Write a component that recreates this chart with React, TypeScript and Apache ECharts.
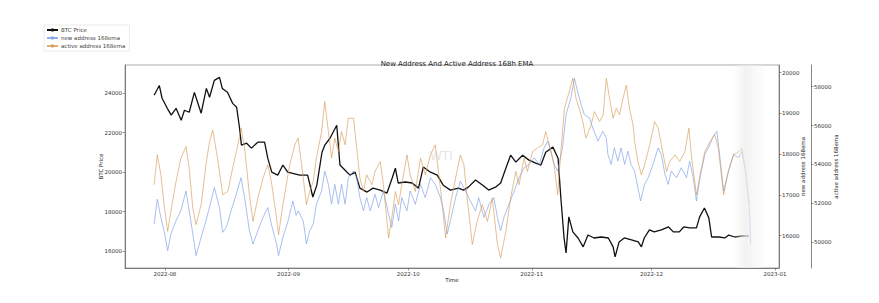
import React, { useEffect, useRef } from "react";
import * as echarts from "echarts";

// Day offsets are days after 2022-07-22 (00:00)
const btcDays = [7.3, 8.6, 9.3, 10.6, 11.6, 12.8, 14.1, 14.9, 16.1, 17.4, 19.1, 20.4, 21.2, 22.4, 23.7, 24.4, 25.7, 27.0, 28.0, 28.7, 29.2, 30.5, 31.7, 33.3, 35.0, 35.8, 36.8, 38.3, 39.6, 40.8, 43.8, 45.8, 47.1, 48.1, 49.4, 50.1, 51.4, 53.1, 53.9, 55.2, 56.4, 57.7, 58.9, 60.7, 62.2, 64.0, 65.7, 67.0, 67.8, 68.5, 70.3, 72.0, 73.6, 74.8, 76.6, 78.3, 79.8, 81.6, 83.6, 84.9, 86.1, 87.9, 89.7, 91.2, 92.9, 94.2, 95.5, 96.7, 98.0, 99.7, 101.3, 103.0, 104.3, 105.5, 107.3, 108.6, 109.3, 110.1, 110.6, 111.3, 112.3, 113.6, 114.9, 116.1, 117.6, 119.4, 121.2, 122.4, 122.9, 123.9, 125.2, 127.0, 128.7, 129.5, 130.2, 131.5, 132.7, 134.5, 136.3, 137.5, 139.0, 140.1, 141.6, 143.3, 144.1, 145.3, 146.4, 147.1, 148.9, 150.4, 151.4, 152.9, 154.7, 156.4];
const btcPrice = [23900, 24400, 23750, 23240, 22890, 23240, 22630, 23140, 23040, 24050, 22990, 24250, 23800, 24660, 24810, 24250, 24050, 23490, 23290, 22280, 21370, 21470, 21220, 21520, 21520, 20710, 20000, 19850, 20360, 20000, 19850, 19850, 18740, 19340, 21010, 21370, 21720, 22380, 20360, 20100, 19850, 20000, 19190, 18990, 19190, 19090, 18940, 19700, 20200, 19450, 19500, 19450, 19190, 20260, 20000, 19850, 19340, 19090, 19190, 19090, 19240, 19600, 19340, 19090, 19240, 19450, 20200, 20860, 20510, 20860, 20610, 20460, 20360, 21010, 21270, 20710, 18690, 16660, 15900, 17730, 16970, 16660, 16210, 16810, 16660, 16710, 16660, 16210, 15700, 16460, 16660, 16560, 16460, 16210, 16660, 17070, 16970, 17070, 17220, 16970, 16970, 17220, 17170, 17170, 17730, 18180, 17680, 16710, 16710, 16660, 16810, 16710, 16760, 16760];

const newAddrDays = [7.3, 8.1, 9.0, 9.8, 10.7, 11.5, 12.8, 14.0, 15.3, 16.1, 17.4, 17.8, 19.1, 20.3, 21.6, 22.4, 23.7, 24.5, 25.4, 26.6, 27.9, 29.1, 30.0, 31.2, 32.1, 33.3, 34.6, 35.8, 36.7, 38.0, 38.5, 39.6, 40.9, 42.1, 42.9, 43.4, 44.7, 45.5, 46.3, 47.2, 48.0, 49.3, 50.1, 51.0, 51.8, 52.6, 53.5, 54.3, 55.2, 56.0, 57.3, 58.1, 58.9, 59.8, 60.6, 61.5, 62.7, 63.6, 64.8, 66.1, 66.9, 67.8, 68.6, 69.4, 70.7, 71.5, 72.8, 74.1, 75.3, 76.6, 77.8, 79.1, 79.9, 80.8, 81.6, 82.9, 84.1, 85.4, 86.6, 87.9, 88.7, 90.0, 91.3, 92.5, 93.4, 94.2, 95.0, 96.3, 97.6, 98.8, 100.1, 101.3, 102.6, 103.9, 105.1, 106.0, 106.8, 107.6, 108.5, 109.7, 110.6, 111.8, 112.7, 113.5, 114.4, 115.2, 116.5, 117.3, 118.6, 119.8, 120.7, 121.1, 121.9, 122.7, 123.6, 124.4, 125.3, 126.1, 126.9, 127.8, 128.6, 129.3, 130.3, 131.2, 132.4, 133.7, 134.5, 135.4, 136.2, 137.0, 138.3, 139.5, 140.8, 141.6, 142.5, 143.3, 144.2, 145.4, 146.7, 147.5, 148.4, 149.2, 150.1, 150.9, 151.8, 152.6, 153.9, 154.7, 155.6, 156.5, 156.9];
const newAddr = [16284, 16894, 16447, 16120, 15632, 16040, 16365, 16609, 17096, 16609, 15796, 15511, 15960, 16365, 16853, 17180, 16691, 16082, 16203, 16609, 17016, 17423, 16935, 16120, 15796, 16120, 16447, 16691, 16284, 15796, 15511, 15960, 16365, 16853, 16500, 16609, 16365, 15796, 16120, 16284, 16772, 17096, 17584, 17260, 16772, 17260, 16772, 17260, 16772, 17423, 17584, 17423, 16935, 16609, 16935, 16609, 17016, 16691, 17096, 16528, 16203, 16772, 16365, 16935, 16609, 17096, 16772, 17260, 16935, 17423, 17260, 16935, 16609, 16040, 16365, 16935, 17340, 17096, 16853, 16609, 16935, 16447, 16772, 16935, 16447, 16120, 16447, 16772, 17096, 17423, 17667, 17748, 17911, 17748, 18155, 18317, 18073, 17748, 17584, 18155, 18968, 19375, 19863, 19537, 19212, 18968, 18887, 18643, 18317, 18561, 18399, 17992, 17748, 18155, 17829, 18155, 17748, 18073, 17748, 17584, 17180, 16853, 17260, 17423, 17748, 18155, 17992, 17504, 17260, 17584, 17423, 17667, 17423, 17829, 17423, 16853, 17423, 17992, 18236, 18439, 18561, 17911, 17096, 17423, 17748, 17992, 17911, 18073, 17584, 16772, 15796];

const activeAddrDays = [7.3, 8.1, 9.0, 9.8, 10.7, 11.5, 12.8, 14.0, 15.3, 16.1, 17.0, 17.8, 19.1, 20.3, 21.2, 22.0, 23.2, 24.5, 25.8, 27.0, 28.3, 29.1, 30.0, 31.2, 32.1, 33.3, 34.6, 35.8, 36.7, 38.0, 38.5, 39.6, 41.3, 42.6, 43.4, 44.3, 45.5, 46.3, 47.2, 48.0, 49.3, 50.1, 51.0, 51.8, 52.6, 53.5, 54.3, 55.2, 56.0, 57.3, 58.1, 58.9, 59.8, 60.6, 61.9, 62.7, 64.0, 64.8, 66.1, 66.9, 67.8, 68.6, 69.4, 70.7, 71.5, 72.8, 74.1, 75.3, 76.6, 77.8, 78.7, 79.5, 80.4, 81.6, 82.9, 84.1, 85.0, 85.8, 87.1, 88.3, 89.6, 90.9, 92.1, 93.4, 94.2, 95.5, 96.7, 98.0, 98.8, 100.1, 100.9, 102.2, 103.4, 104.7, 105.5, 106.4, 107.6, 108.5, 109.3, 110.2, 111.4, 112.3, 113.1, 113.9, 114.8, 115.6, 116.9, 117.7, 119.0, 119.9, 120.7, 121.5, 122.4, 123.2, 124.0, 124.9, 125.7, 126.5, 127.4, 127.8, 128.6, 129.5, 130.3, 131.6, 132.8, 133.7, 134.5, 135.8, 136.6, 137.9, 139.1, 140.4, 141.4, 142.1, 143.3, 144.2, 145.4, 146.7, 147.9, 148.8, 150.1, 151.3, 152.6, 153.9, 154.7, 155.6, 156.5];
const activeAddr = [52958, 54497, 53471, 51932, 50562, 51588, 53127, 54327, 54923, 53815, 51763, 50906, 51932, 53984, 55179, 55779, 54327, 52445, 52614, 53815, 55010, 55866, 54840, 52445, 51075, 52275, 53301, 53984, 53127, 51250, 50393, 51932, 53984, 55010, 55368, 53984, 51932, 52614, 53127, 54327, 55692, 57231, 55692, 54327, 55353, 54665, 55692, 55010, 56379, 56379, 54840, 53301, 52614, 53471, 52958, 53640, 54153, 52958, 50225, 51250, 52614, 51932, 52958, 54497, 53471, 52614, 54327, 53471, 54497, 55010, 53471, 52049, 50225, 51932, 53301, 54497, 53984, 52275, 49880, 51075, 51932, 51075, 52275, 49880, 49196, 50562, 52275, 53640, 52958, 54327, 53640, 54665, 54840, 55010, 55692, 55010, 53984, 52445, 54665, 56892, 57744, 58431, 57405, 56892, 56205, 55353, 56036, 56718, 56205, 56549, 58431, 57405, 56379, 56892, 56549, 57405, 58088, 56892, 56036, 55179, 54153, 53471, 53984, 55010, 56205, 55866, 55010, 53640, 54153, 54497, 54153, 54665, 55866, 54327, 52445, 53471, 54665, 55179, 55522, 54840, 52445, 53640, 54497, 54665, 54840, 53640, 51932];

const baseTime = new Date(2022, 6, 22).getTime();
const DAY = 86400000;
const toT = (d: number) => baseTime + d * DAY;

const AXIS_COLOR = "#555";
const LABEL_COLOR = "#333";

export default function App() {
  const ref = useRef<HTMLDivElement>(null);
  useEffect(() => {
    if (!ref.current) return;
    const chart = echarts.init(ref.current, undefined, { renderer: "svg" });
    const yBase = (pos: "left" | "right", step: number) => ({
      type: "value" as const,
      position: pos,
      splitLine: { show: false },
      axisLine: { show: true, lineStyle: { color: AXIS_COLOR, width: 0.7 } },
      axisTick: { show: true, length: 2.5, lineStyle: { color: AXIS_COLOR, width: 0.6 } },
      axisLabel: {
        fontSize: 5.5,
        color: LABEL_COLOR,
        margin: 3,
        showMinLabel: false,
        showMaxLabel: false,
        formatter: (v: number) => (Math.abs(v % step) < 1e-6 ? String(v) : ""),
      },
      nameLocation: "middle" as const,
      nameRotate: 90,
      nameMoveOverlap: false,
      nameTextStyle: { fontSize: 5.5, color: "#222" },
    });
    chart.setOption({
      animation: false,
      backgroundColor: "#fff",
      title: {
        text: "New Address And Active Address 168h EMA",
        left: 452,
        textAlign: "center",
        top: 55,
        textStyle: { fontSize: 7, fontWeight: "normal", color: "#222", fontFamily: "DejaVu Sans" },
      },
      legend: {
        orient: "vertical",
        left: 44,
        top: 25,
        itemWidth: 11,
        itemHeight: 4,
        itemGap: 2,
        padding: [2, 4, 2, 2],
        borderColor: "#ddd",
        borderWidth: 0.6,
        textStyle: { fontSize: 5.5, color: "#444", fontFamily: "DejaVu Sans", padding: [0, 0, 0, -2] },
        data: ["BTC Price", "new address 168ema", "active address 168ema"],
      },
      textStyle: { fontFamily: "DejaVu Sans" },
      grid: { left: 125, right: 100, top: 65, bottom: 35, show: true, borderColor: "#888", borderWidth: 0.7 },
      xAxis: {
        type: "time",
        min: toT(0),
        max: toT(164),
        splitLine: { show: false },
        axisLine: { lineStyle: { color: AXIS_COLOR, width: 0.7 } },
        axisTick: { show: true, length: 2.5, lineStyle: { color: AXIS_COLOR, width: 0.6 } },
        minInterval: 28 * DAY,
        maxInterval: 31 * DAY,
        axisLabel: {
          fontSize: 5.5,
          color: LABEL_COLOR,
          margin: 3,
          formatter: (v: number) => echarts.time.format(v, "{yyyy}-{MM}", false),
        },
        name: "Time",
        nameLocation: "middle",
        nameGap: 9,
        nameMoveOverlap: false,
        nameTextStyle: { fontSize: 5.5, color: "#222" },
      },
      yAxis: [
        { ...yBase("left", 2000), min: 15137, max: 25437, name: "BTC Price", nameGap: 21 },
        { ...yBase("right", 1000), min: 15207, max: 20189, name: "new address 168ema", nameGap: 21 },
        { ...yBase("right", 2000), min: 48679, max: 59115, offset: 32, name: "active address 168ema", nameGap: 22 },
      ],
      series: [
        {
          name: "BTC Price",
          type: "line",
          yAxisIndex: 0,
          symbol: "none",
          data: btcDays.map((d, i) => [toT(d), btcPrice[i]]),
          lineStyle: { color: "#111", width: 1.3 },
          itemStyle: { color: "#111" },
          z: 2,
        },
        {
          name: "new address 168ema",
          type: "line",
          yAxisIndex: 1,
          symbol: "none",
          data: newAddrDays.map((d, i) => [toT(d), newAddr[i]]),
          lineStyle: { color: "#7fa2e8", width: 0.8, opacity: 0.85 },
          itemStyle: { color: "#7fa2e8" },
          z: 3,
        },
        {
          name: "active address 168ema",
          type: "line",
          yAxisIndex: 2,
          symbol: "none",
          data: activeAddrDays.map((d, i) => [toT(d), activeAddr[i]]),
          lineStyle: { color: "#d89a55", width: 0.8, opacity: 0.8 },
          itemStyle: { color: "#d89a55" },
          z: 4,
        },
      ],
      graphic: [
        {
          type: "text",
          left: 430,
          top: 150,
          silent: true,
          style: { text: "WTI", fontSize: 12, fill: "rgba(200,200,200,0.5)", fontFamily: "DejaVu Sans" },
          z: 10,
        },
        {
          type: "rect",
          shape: { x: 733, y: 65, width: 32, height: 203 },
          silent: true,
          style: {
            fill: new echarts.graphic.LinearGradient(0, 0, 1, 0, [
              { offset: 0, color: "rgba(240,240,240,0)" },
              { offset: 0.4, color: "rgba(238,238,238,0.75)" },
              { offset: 1, color: "rgba(245,245,245,0.2)" },
            ]),
          },
          z: 10,
        },
      ],
    });
    return () => chart.dispose();
  }, []);
  return <div ref={ref} style={{ position: "fixed", left: 0, top: 0, width: 879, height: 303 }} />;
}
